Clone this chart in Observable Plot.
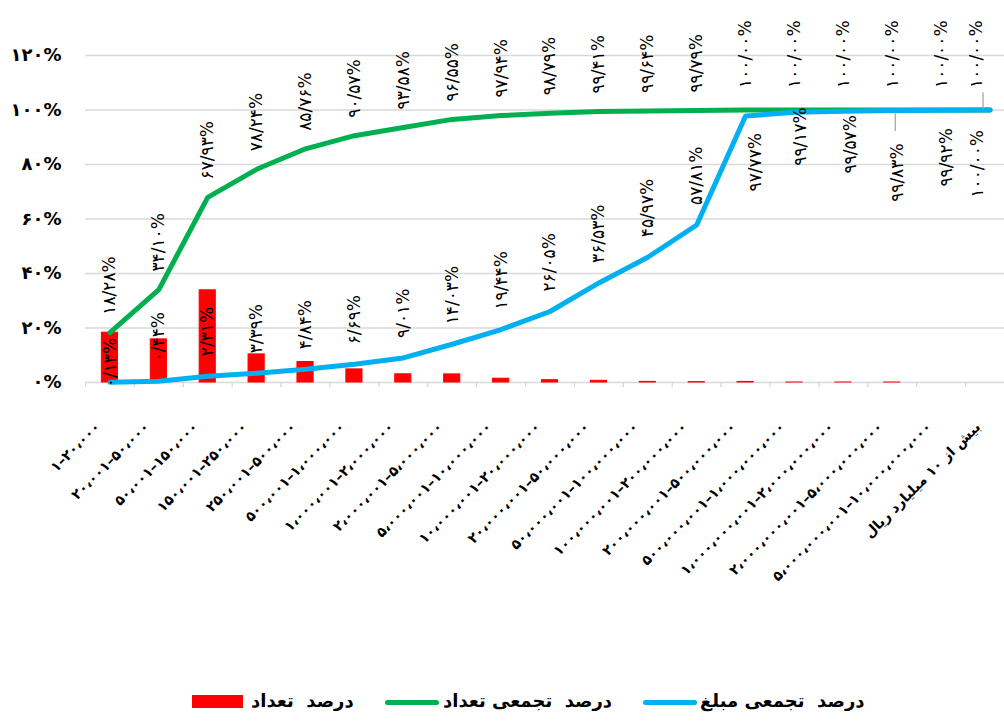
<!DOCTYPE html>
<html>
<head>
<meta charset="utf-8">
<script src="https://cdn.jsdelivr.net/npm/d3@7"></script>
<script src="https://cdn.jsdelivr.net/npm/@observablehq/plot@0.6"></script>
<style>
  body { margin: 0; background: #fff; }
  #wrap { position: relative; width: 1004px; height: 722px; overflow: hidden; font-family: "DejaVu Sans", sans-serif; }
  #chart svg { display: block; }
  .lg-text { position: absolute; font-weight: bold; font-size: 18px; direction: rtl; white-space: pre; line-height: 22px; color: #000; }
  .lg-sw { position: absolute; }
</style>
</head>
<body>
<div id="wrap">
  <div id="chart"></div>
  <div id="legend"></div>
</div>
<script>
// ---- data ----
const categories = [
  "۱–۲۰،۰۰۰",
  "۲۰،۰۰۱–۵۰،۰۰۰",
  "۵۰،۰۰۱–۱۵۰،۰۰۰",
  "۱۵۰،۰۰۱–۲۵۰،۰۰۰",
  "۲۵۰،۰۰۱–۵۰۰،۰۰۰",
  "۵۰۰،۰۰۱–۱،۰۰۰،۰۰۰",
  "۱،۰۰۰،۰۰۱–۲،۰۰۰،۰۰۰",
  "۲،۰۰۰،۰۰۱–۵،۰۰۰،۰۰۰",
  "۵،۰۰۰،۰۰۱–۱۰،۰۰۰،۰۰۰",
  "۱۰،۰۰۰،۰۰۱–۲۰،۰۰۰،۰۰۰",
  "۲۰،۰۰۰،۰۰۱–۵۰،۰۰۰،۰۰۰",
  "۵۰،۰۰۰،۰۰۱–۱۰۰،۰۰۰،۰۰۰",
  "۱۰۰،۰۰۰،۰۰۱–۲۰۰،۰۰۰،۰۰۰",
  "۲۰۰،۰۰۰،۰۰۱–۵۰۰،۰۰۰،۰۰۰",
  "۵۰۰،۰۰۰،۰۰۱–۱،۰۰۰،۰۰۰،۰۰۰",
  "۱،۰۰۰،۰۰۰،۰۰۱–۲،۰۰۰،۰۰۰،۰۰۰",
  "۲،۰۰۰،۰۰۰،۰۰۱–۵،۰۰۰،۰۰۰،۰۰۰",
  "۵،۰۰۰،۰۰۰،۰۰۱–۱۰،۰۰۰،۰۰۰،۰۰۰",
  "بیش از ۱۰ میلیارد ریال"
];
// درصد تعداد (bars)
const countPct = [18.28, 15.82, 33.83, 10.31, 7.52, 4.81, 3.01, 2.97, 1.39, 0.85, 0.62, 0.23, 0.15, 0.21, 0.004, 0.004, 0.004, 0, 0];
// درصد تجمعی تعداد (green line)
const cumCountPct = [18.28, 34.10, 67.93, 78.24, 85.76, 90.57, 93.58, 96.55, 97.94, 98.79, 99.41, 99.64, 99.79, 100.00, 100.00, 100.00, 100.00, 100.00, 100.00];
// درصد تجمعی مبلغ (blue line)
const cumAmountPct = [0.13, 0.44, 2.31, 3.39, 4.84, 6.69, 9.01, 14.03, 19.44, 26.05, 36.53, 45.97, 57.81, 97.77, 99.17, 99.57, 99.83, 99.92, 100.00];
const yTicks = [0, 20, 40, 60, 80, 100, 120];
const yTickLabels = ["۰%", "۲۰%", "۴۰%", "۶۰%", "۸۰%", "۱۰۰%", "۱۲۰%"];
const seriesNames = ["درصد  تعداد", "درصد  تجمعی تعداد", "درصد  تجمعی مبلغ"];
const seriesColors = ["#FF0000", "#00B050", "#00B0F0"];

// ---- build ----
const data = categories.map((c, i) => ({cat: c, i, count: countPct[i], cumCount: cumCountPct[i], cumAmount: cumAmountPct[i]}));
const fa = s => s.replace(/[0-9]/g, d => "۰۱۲۳۴۵۶۷۸۹"[+d]);
const pct = v => fa(v.toFixed(2)).replace(".", "/") + "%";

const W = 1004, H = 660;
const xRange = [85, 1014];
const step = (xRange[1] - xRange[0]) / categories.length;
const FONT = "DejaVu Sans";
const LBL = 17;

// label placement tweaks (pixels)
const greenPlace = i => ({dx: i === 18 ? -14 : 0, dy: i >= 13 ? -22 : -18});
const bluePlace = i => {
  if (i === 0) return {anchor: "start", dx: 1, dy: 5};
  if (i <= 12) return {anchor: "start", dx: 0, dy: -20};
  const t = {13: [10, 17], 14: [6, -5], 15: [7, 4], 16: [5, 33], 17: [5, 18], 18: [-13, 20]}[i];
  return {anchor: "end", dx: t[0], dy: t[1]};
};

const marks = [
  Plot.ruleY(yTicks.filter(d => d > 0), {stroke: "#d9d9d9", strokeWidth: 1.3}),
  Plot.ruleY([0], {stroke: "#d9d9d9", strokeWidth: 1.3}),
  Plot.ruleX(categories, {x: d => d, y1: 0, y2: -1.9, dx: -step / 2, stroke: "#d9d9d9", strokeWidth: 1.3}),
  Plot.barY(data, {x: "cat", y: "count", fill: seriesColors[0], stroke: seriesColors[0], strokeWidth: 1, filter: d => d.count > 0}),
  Plot.line(data, {x: "cat", y: "cumCount", stroke: seriesColors[1], strokeWidth: 5, strokeLinejoin: "round", strokeLinecap: "round"}),
  Plot.line(data, {x: "cat", y: "cumAmount", stroke: seriesColors[2], strokeWidth: 5, strokeLinejoin: "round", strokeLinecap: "round"}),
  // leader lines
  Plot.link([data[18]], {x1: "cat", x2: "cat", y1: d => d.cumCount + 0.5, y2: d => d.cumCount + 6.5, dx: -7, stroke: "#a6a6a6", strokeWidth: 1.3}),
  Plot.link([data[16]], {x1: "cat", x2: "cat", y1: d => d.cumAmount - 1, y2: d => d.cumAmount - 7.5, dx: 3, stroke: "#a6a6a6", strokeWidth: 1.3}),
  // x tick labels
  Plot.text(data, {x: "cat", y: () => 0, text: "cat", rotate: -45, textAnchor: "end", dx: -12, dy: 42,
    fontSize: 14, fontWeight: "bold", fontFamily: FONT, fill: "#000"}),
  Plot.axisY({ticks: yTicks, tickFormat: d => yTickLabels[yTicks.indexOf(d)], tickSize: 0, tickPadding: 24,
    fontSize: 18, fontWeight: "bold", fontFamily: FONT, label: null, fill: "#000"})
];
data.forEach((d, i) => {
  const g = greenPlace(i);
  marks.push(Plot.text([d], {x: "cat", y: "cumCount", text: e => pct(e.cumCount), rotate: -90, textAnchor: "start",
    dx: g.dx, dy: g.dy, fontSize: LBL, fontFamily: FONT, fill: "#000"}));
  const b = bluePlace(i);
  marks.push(Plot.text([d], {x: "cat", y: "cumAmount", text: e => pct(e.cumAmount), rotate: -90, textAnchor: b.anchor,
    dx: b.dx, dy: b.dy, fontSize: LBL, fontFamily: FONT, fill: "#000"}));
});

const chart = Plot.plot({
  width: W, height: H,
  marginTop: 55, marginBottom: H - 382, marginLeft: 85, marginRight: 0,
  style: {fontFamily: FONT, background: "#fff", overflow: "visible"},
  x: {type: "band", domain: categories, range: xRange, paddingInner: 0.67, paddingOuter: 0.335, round: false, axis: null},
  y: {domain: [0, 120], axis: null},
  marks
});
document.getElementById("chart").appendChild(chart);

// legend
const legend = document.getElementById("legend");
const lg = [
  {sw: "rect", swLeft: 192, swW: 51, textLeft: 251},
  {sw: "line", swLeft: 385, swW: 54, textLeft: 443},
  {sw: "line", swLeft: 643, swW: 54, textLeft: 700}
];
lg.forEach((p, k) => {
  const sw = document.createElement("div");
  sw.className = "lg-sw";
  sw.style.left = p.swLeft + "px";
  sw.style.width = p.swW + "px";
  sw.style.background = seriesColors[k];
  if (p.sw === "rect") { sw.style.top = "695px"; sw.style.height = "13px"; }
  else { sw.style.top = "700px"; sw.style.height = "5px"; sw.style.borderRadius = "3px"; }
  legend.appendChild(sw);
  const t = document.createElement("div");
  t.className = "lg-text";
  t.style.left = p.textLeft + "px";
  t.style.top = "690px";
  t.textContent = seriesNames[k];
  legend.appendChild(t);
});
</script>
</body>
</html>
